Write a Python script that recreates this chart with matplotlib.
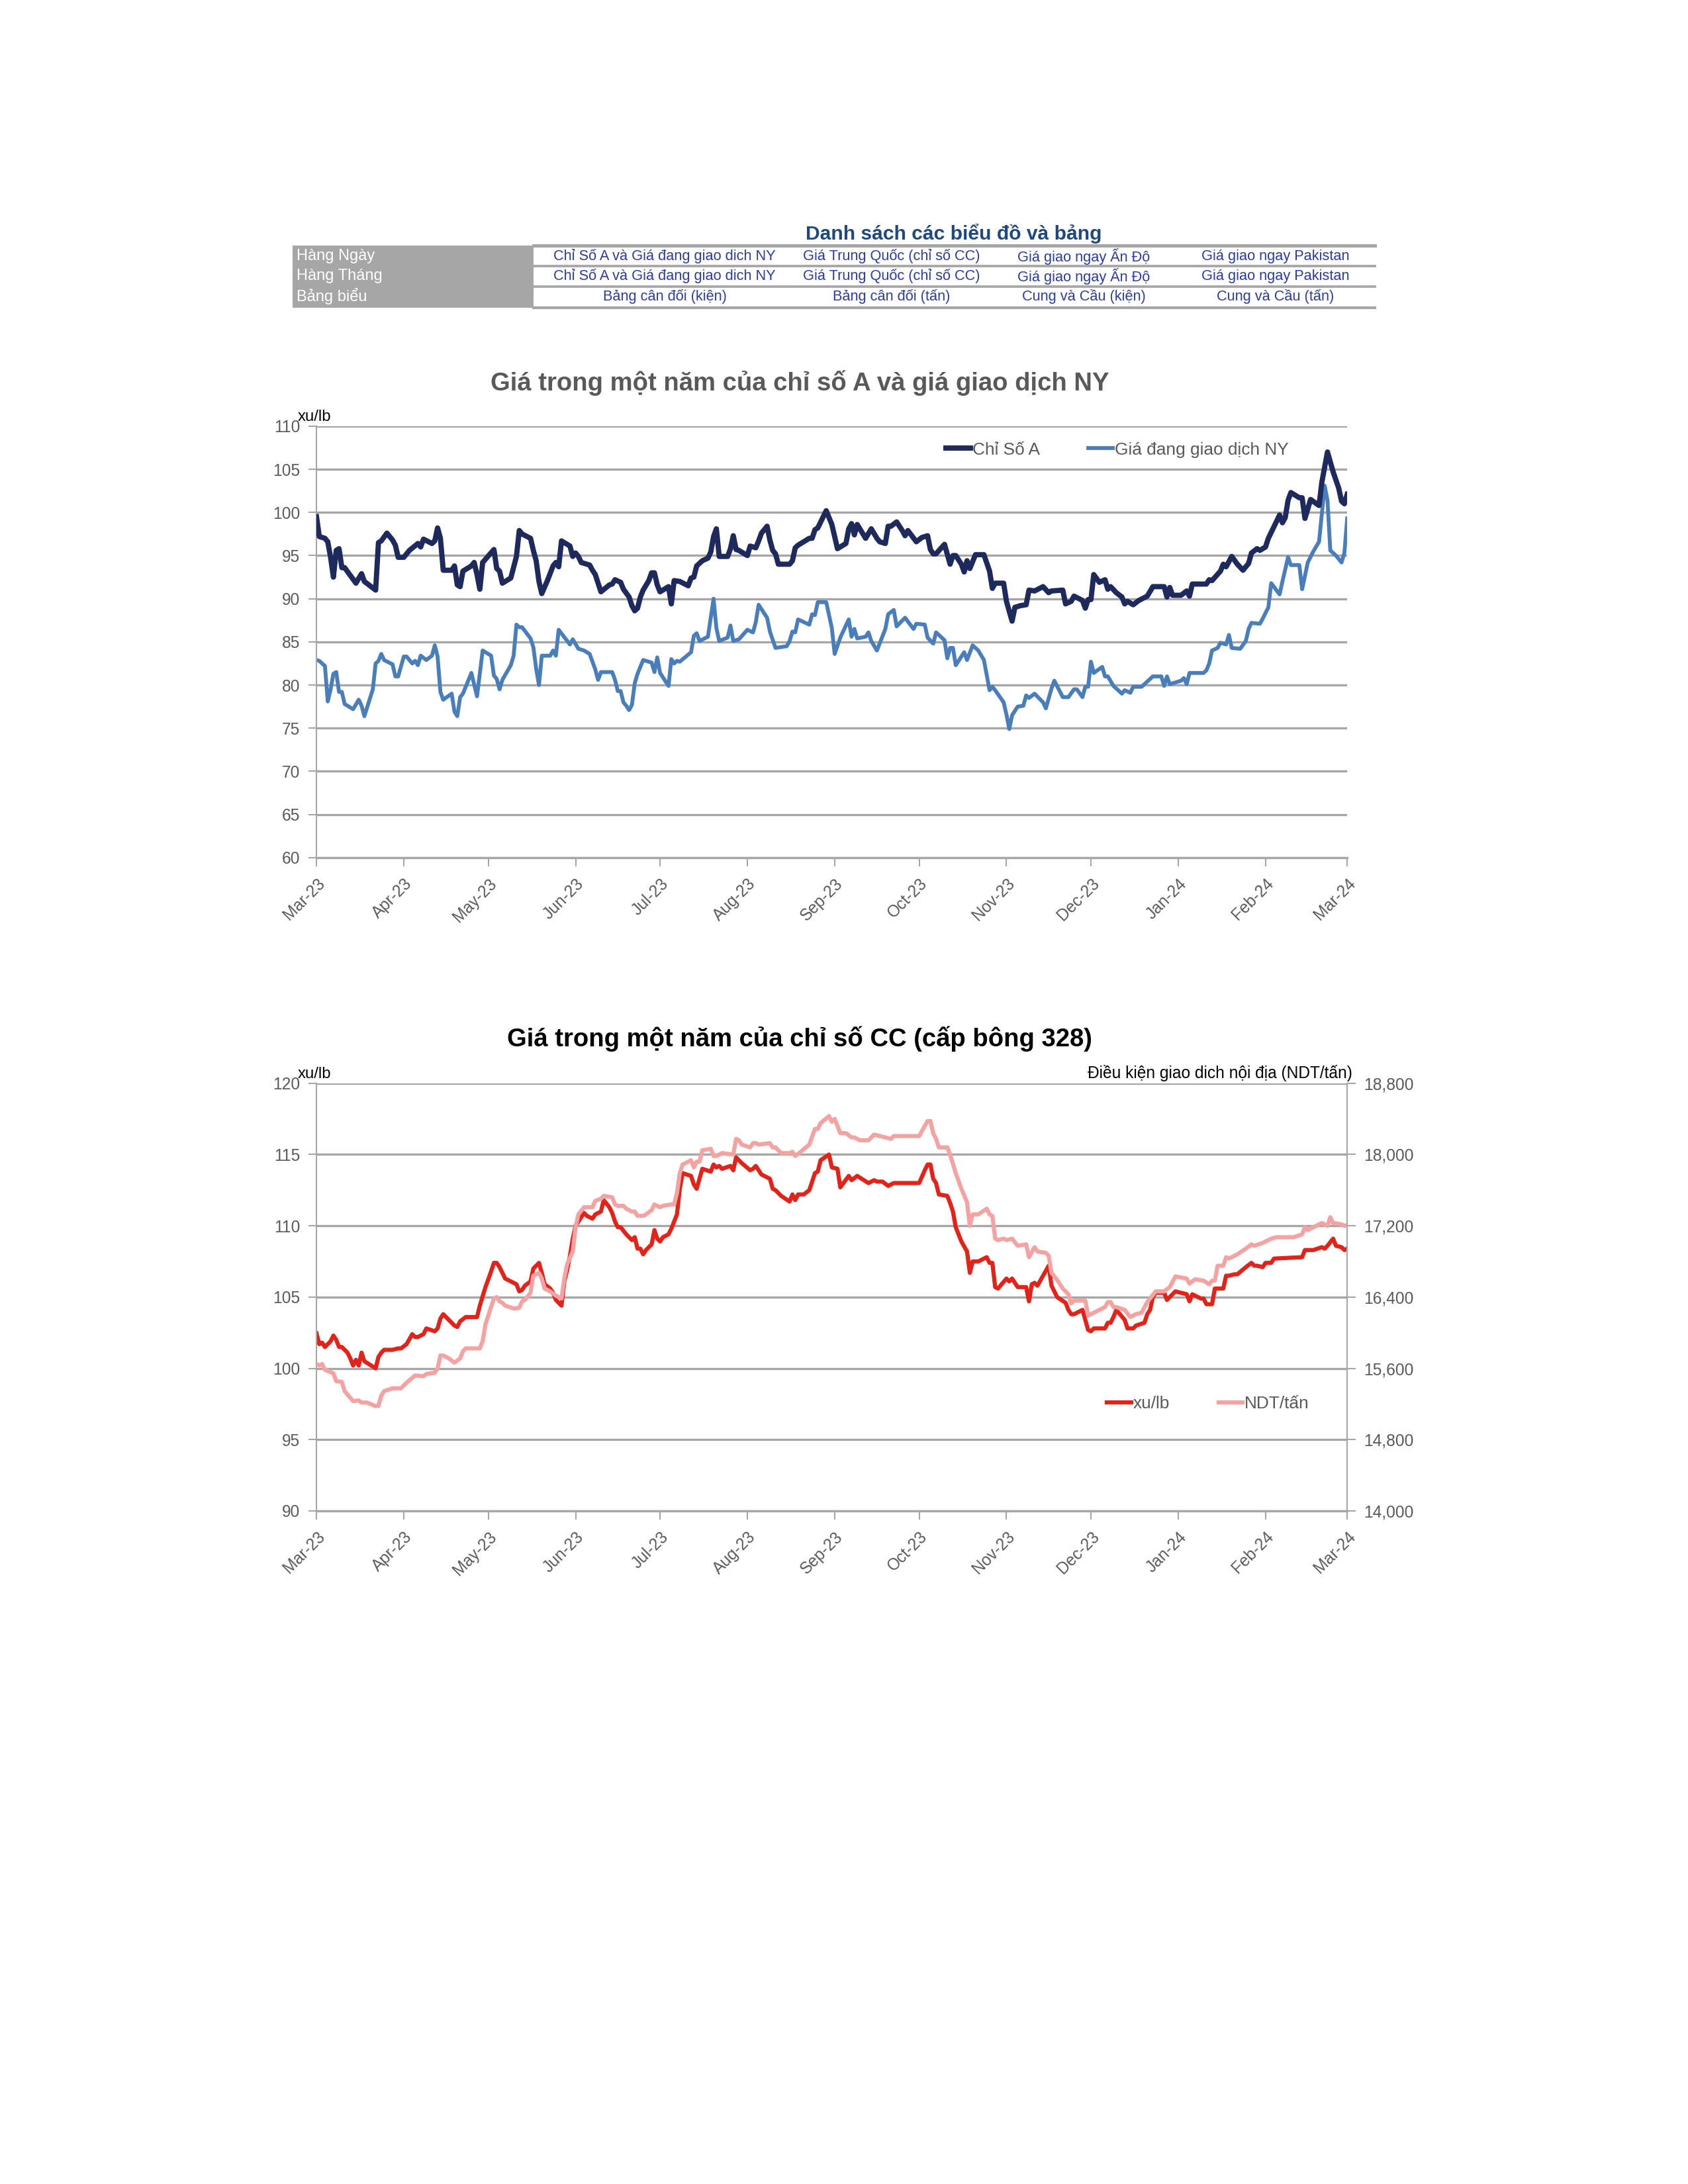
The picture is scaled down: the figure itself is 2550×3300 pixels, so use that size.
import numpy as np
import pandas as pd
import matplotlib
matplotlib.use("Agg")
import matplotlib.pyplot as plt
import matplotlib.dates as mdates
from matplotlib.lines import Line2D
from matplotlib.patches import Rectangle
from matplotlib.ticker import FuncFormatter, MultipleLocator, FixedLocator
from matplotlib import font_manager

# ---- du lieu bieu do 1: Chi so A va gia NY (xu/lb), ngay tinh tu 01/03/2023 ----
a_days = [0, 1, 3, 4, 5, 6, 7, 8, 9, 10, 12, 14, 16, 17, 19, 21, 22, 23, 25, 27, 28, 29, 31, 33,
          36, 37, 38, 41, 42, 43, 44, 45, 48, 49, 50, 51, 52, 55, 56, 57, 58, 59, 63, 64, 65, 66,
          69, 71, 72, 73, 76, 77, 78, 79, 80, 82, 84, 85, 86, 87, 88, 90, 91, 92, 93, 94, 96, 97,
          98, 99, 101, 104, 105, 106, 108, 109, 111, 112, 113, 114, 115, 116, 118, 119, 120, 121,
          122, 125, 126, 127, 129, 132, 133, 134, 135, 137, 139, 140, 141, 142, 143, 146, 147, 148,
          149, 150, 153, 154, 156, 157, 158, 160, 161, 162, 163, 164, 168, 169, 170, 171, 175, 176,
          177, 178, 181, 183, 185, 188, 189, 190, 191, 192, 195, 197, 199, 200, 202, 203, 204, 206,
          208, 209, 210, 213, 215, 217, 218, 219, 220, 223, 225, 226, 227, 229, 230, 231, 232, 234,
          237, 239, 240, 241, 244, 245, 247, 248, 250, 252, 253, 255, 258, 260, 261, 265, 266, 268,
          269, 272, 273, 274, 275, 276, 278, 280, 281, 282, 284, 286, 287, 288, 290, 292, 295, 297,
          301, 302, 303, 304, 307, 309, 310, 311, 316, 317, 318, 321, 322, 323, 325, 327, 329, 331,
          332, 334, 335, 337, 338, 342, 343, 344, 345, 346, 349, 350, 351, 353, 356, 357, 359, 361,
          363, 364, 365, 366]
chi_so_a = [99.5, 97.2, 97.0, 96.6, 94.8, 92.5, 95.6, 95.8, 93.6, 93.6, 92.7, 91.8, 92.9, 92.0,
            91.5, 91.0, 96.5, 96.7, 97.6, 96.8, 96.2, 94.8, 94.8, 95.6, 96.4, 96.0, 96.9, 96.4,
            96.7, 98.2, 97.0, 93.3, 93.3, 93.8, 91.6, 91.4, 93.2, 93.8, 94.2, 92.8, 91.1, 94.2,
            95.7, 93.5, 93.2, 91.8, 92.4, 94.9, 97.9, 97.5, 97.0, 95.6, 94.4, 92.0, 90.6, 92.1,
            93.8, 94.2, 93.7, 96.7, 96.5, 96.1, 94.9, 95.3, 94.9, 94.2, 94.0, 93.9, 93.3, 92.8,
            90.8, 91.6, 91.7, 92.2, 91.9, 91.1, 90.2, 89.2, 88.6, 88.9, 90.2, 91.0, 92.1, 93.0,
            93.0, 91.6, 90.8, 91.4, 89.4, 92.1, 92.0, 91.5, 92.4, 92.5, 93.8, 94.4, 94.7, 95.4,
            97.2, 98.1, 94.9, 94.9, 95.8, 97.3, 95.7, 95.6, 95.0, 96.1, 95.9, 96.7, 97.6, 98.4,
            96.8, 95.6, 95.2, 94.0, 94.0, 94.4, 95.9, 96.2, 97.0, 97.0, 98.0, 98.2, 100.2, 98.6,
            95.8, 96.4, 98.1, 98.7, 97.4, 98.6, 97.0, 98.1, 97.0, 96.6, 96.4, 98.4, 98.4, 98.9,
            97.9, 97.3, 97.9, 96.6, 97.1, 97.3, 95.7, 95.2, 95.2, 96.3, 94.0, 95.0, 95.0, 94.0,
            93.1, 94.4, 93.5, 95.1, 95.1, 93.2, 91.2, 91.8, 91.8, 89.7, 87.4, 89.0, 89.2, 89.3,
            91.0, 90.9, 91.4, 90.7, 90.9, 91.0, 89.4, 89.7, 90.3, 89.8, 88.9, 89.9, 89.9, 92.8,
            91.9, 92.2, 91.1, 91.4, 90.7, 90.2, 89.4, 89.7, 89.3, 89.8, 90.3, 91.4, 91.4, 90.2,
            91.3, 90.4, 90.4, 90.9, 90.3, 91.7, 91.7, 92.2, 92.1, 93.2, 94.0, 93.7, 94.9, 94.0,
            93.3, 94.1, 95.3, 95.8, 95.6, 96.0, 97.0, 99.7, 98.8, 99.4, 101.4, 102.3, 101.7, 101.7,
            99.3, 101.5, 100.8, 103.5, 107.0, 104.7, 102.8, 101.3, 101.0, 102.1]

ny_days = [0, 1, 3, 4, 5, 6, 7, 8, 9, 10, 13, 15, 16, 17, 20, 21, 22, 23, 24, 27, 28, 29, 31, 32,
           34, 35, 36, 37, 39, 41, 42, 43, 44, 45, 48, 49, 50, 51, 52, 55, 57, 59, 62, 63, 64, 65,
           66, 69, 70, 71, 72, 73, 76, 77, 78, 79, 80, 83, 84, 85, 86, 90, 91, 93, 95, 97, 99, 100,
           101, 105, 106, 107, 108, 109, 110, 111, 112, 113, 114, 116, 118, 119, 120, 121, 122, 125,
           126, 127, 128, 129, 133, 134, 135, 136, 139, 141, 142, 143, 146, 147, 148, 150, 153, 155,
           156, 157, 160, 161, 163, 167, 168, 169, 170, 171, 175, 176, 177, 178, 181, 183, 184, 186,
           189, 190, 191, 192, 195, 196, 197, 199, 202, 203, 205, 206, 209, 212, 213, 216, 217, 219,
           220, 223, 224, 225, 226, 227, 230, 231, 233, 235, 237, 239, 240, 241, 244, 245, 246, 247,
           249, 251, 252, 253, 255, 258, 259, 261, 262, 265, 267, 269, 270, 272, 273, 274, 275, 276,
           279, 280, 281, 283, 286, 287, 289, 290, 293, 297, 300, 301, 302, 303, 307, 308, 309, 310,
           315, 316, 317, 318, 320, 321, 323, 324, 325, 328, 330, 331, 332, 335, 336, 338, 339, 342,
           343, 345, 346, 349, 350, 352, 354, 356, 358, 359, 360, 362, 364, 365, 366]
gia_ny = [82.9, 82.8, 82.2, 78.1, 79.5, 81.3, 81.5, 79.2, 79.2, 77.8, 77.2, 78.3, 77.6, 76.4, 79.5,
          82.5, 82.8, 83.6, 82.9, 82.4, 81.0, 81.0, 83.3, 83.3, 82.5, 82.8, 82.3, 83.4, 82.9, 83.4,
          84.6, 83.3, 79.2, 78.3, 79.0, 76.9, 76.4, 78.6, 79.0, 81.4, 78.7, 84.0, 83.4, 81.1, 80.7,
          79.5, 80.6, 82.3, 83.4, 87.0, 86.7, 86.7, 85.4, 84.4, 81.9, 80.0, 83.4, 83.4, 84.0, 83.4,
          86.4, 84.7, 85.3, 84.2, 84.0, 83.6, 81.8, 80.6, 81.5, 81.5, 80.6, 79.3, 79.3, 78.0, 77.6,
          77.1, 77.7, 80.2, 81.3, 82.9, 82.7, 82.6, 81.5, 83.2, 81.4, 79.9, 83.0, 82.5, 82.8, 82.7,
          83.8, 85.7, 86.0, 85.1, 85.6, 90.0, 86.6, 85.1, 85.5, 86.9, 85.1, 85.3, 86.4, 86.1, 87.3,
          89.3, 87.8, 86.2, 84.3, 84.5, 85.1, 86.2, 86.1, 87.6, 87.0, 88.2, 88.1, 89.6, 89.6, 86.6,
          83.6, 85.5, 87.6, 85.6, 86.5, 85.4, 85.6, 86.1, 85.1, 84.0, 86.5, 88.2, 88.7, 86.8, 87.8,
          86.5, 87.1, 87.0, 85.5, 84.8, 86.1, 85.2, 83.1, 84.3, 84.3, 82.3, 83.8, 82.9, 84.6, 84.0,
          82.9, 79.4, 79.8, 79.4, 78.0, 76.6, 74.9, 76.5, 77.5, 77.6, 78.8, 78.5, 79.0, 78.0, 77.3,
          79.6, 80.5, 78.6, 78.6, 79.5, 79.5, 78.6, 79.8, 79.8, 82.7, 81.4, 82.1, 81.0, 81.0, 79.9,
          79.0, 79.4, 79.1, 79.8, 79.8, 81.0, 81.0, 79.9, 81.0, 80.1, 80.5, 80.8, 80.1, 81.4, 81.4,
          81.7, 82.5, 84.0, 84.3, 84.9, 84.7, 85.8, 84.3, 84.2, 85.1, 86.5, 87.2, 87.1, 87.7, 89.0,
          91.8, 90.5, 92.0, 94.8, 93.9, 93.9, 91.1, 94.2, 95.5, 96.6, 103.1, 101.4, 95.6, 95.0,
          94.2, 95.3, 99.3]

# ---- du lieu bieu do 2: chi so CC (xu/lb va NDT/tan) ----
cc_days = [0, 1, 2, 3, 5, 6, 7, 8, 9, 11, 12, 13, 14, 15, 16, 17, 21, 22, 23, 24, 27, 29, 30, 32,
           34, 35, 36, 38, 39, 42, 43, 44, 45, 47, 49, 50, 51, 53, 57, 58, 60, 62, 63, 64, 65, 67,
           69, 71, 72, 73, 74, 76, 77, 79, 80, 81, 83, 84, 85, 87, 88, 89, 90, 91, 92, 94, 95, 96,
           98, 99, 101, 102, 104, 105, 106, 107, 108, 110, 112, 113, 114, 115, 116, 117, 119, 120,
           121, 122, 123, 125, 126, 128, 129, 130, 133, 134, 135, 136, 137, 140, 141, 142, 143, 144,
           147, 148, 149, 151, 154, 155, 156, 157, 158, 161, 162, 163, 165, 168, 169, 170, 171, 173,
           175, 177, 178, 179, 182, 183, 185, 186, 189, 190, 192, 196, 198, 199, 201, 203, 205, 214,
           216, 217, 218, 219, 220, 221, 224, 225, 226, 227, 229, 231, 232, 233, 235, 238, 239, 240,
           241, 242, 245, 246, 247, 249, 252, 253, 254, 255, 256, 258, 260, 261, 263, 266, 267, 268,
           269, 272, 274, 275, 276, 280, 281, 282, 283, 284, 287, 288, 290, 291, 294, 295, 296, 297,
           298, 301, 302, 303, 305, 309, 310, 311, 314, 315, 316, 318, 319, 322, 323, 324, 326, 327,
           330, 332, 333, 334, 336, 337, 339, 340, 350, 351, 354, 357, 358, 359, 361, 362, 364, 365,
           366]
cc_xu_lb = [102.45, 101.7, 101.8, 101.5, 101.9, 102.3, 102.0, 101.5, 101.5, 101.1, 100.7, 100.2,
            100.6, 100.2, 101.1, 100.5, 100.0, 100.8, 101.1, 101.3, 101.3, 101.4, 101.4, 101.7,
            102.4, 102.2, 102.2, 102.4, 102.8, 102.6, 102.8, 103.5, 103.8, 103.4, 103.0, 102.9,
            103.3, 103.6, 103.6, 104.4, 105.7, 106.8, 107.4, 107.4, 107.1, 106.3, 106.1, 105.9,
            105.4, 105.5, 105.8, 106.1, 107.0, 107.4, 106.7, 105.9, 105.6, 105.3, 104.8, 104.4,
            106.1, 106.9, 107.9, 109.1, 110.0, 110.6, 110.9, 110.7, 110.5, 110.8, 111.0, 111.8,
            111.3, 110.9, 110.3, 109.9, 109.9, 109.4, 109.0, 109.2, 108.4, 108.4, 108.0, 108.3,
            108.7, 109.7, 109.1, 108.9, 109.2, 109.4, 109.8, 110.8, 112.6, 113.7, 113.5, 112.9,
            112.6, 113.3, 114.0, 113.8, 114.3, 114.1, 114.2, 114.0, 114.2, 113.9, 114.8, 114.4,
            113.9, 114.0, 114.2, 113.9, 113.6, 113.3, 112.6, 112.5, 112.1, 111.7, 112.2, 111.8,
            112.2, 112.2, 112.5, 113.7, 113.8, 114.6, 115.0, 114.1, 114.0, 112.7, 113.5, 113.2,
            113.5, 113.0, 113.2, 113.1, 113.1, 112.8, 113.0, 113.0, 113.9, 114.3, 114.3, 113.3,
            113.0, 112.2, 112.1, 111.6, 111.0, 109.9, 108.9, 108.2, 106.7, 107.5, 107.5, 107.8,
            107.4, 107.4, 105.7, 105.6, 106.3, 106.1, 106.3, 105.7, 105.7, 104.7, 105.9, 106.0,
            105.8, 106.5, 107.2, 105.8, 105.0, 104.6, 104.1, 103.8, 103.8, 104.1, 102.7, 102.6,
            102.8, 102.8, 103.2, 103.2, 103.6, 104.1, 103.4, 102.8, 102.8, 103.0, 103.2, 103.8,
            104.1, 105.0, 105.3, 105.3, 104.8, 105.0, 105.4, 105.2, 104.7, 105.2, 104.9, 104.9,
            104.5, 104.5, 105.6, 105.6, 106.5, 106.5, 106.6, 106.6, 107.1, 107.4, 107.2, 107.2,
            107.1, 107.4, 107.4, 107.7, 107.8, 108.3, 108.3, 108.5, 108.4, 108.6, 109.1, 108.6,
            108.5, 108.3, 108.4]

ndt_days = [0, 1, 2, 3, 6, 7, 9, 10, 13, 15, 16, 18, 21, 22, 23, 24, 27, 30, 32, 35, 38, 39, 42, 43,
            44, 45, 47, 49, 51, 52, 53, 58, 59, 60, 62, 63, 64, 65, 66, 67, 70, 72, 73, 74, 76, 77,
            79, 80, 81, 83, 85, 87, 88, 89, 91, 92, 93, 95, 98, 99, 101, 102, 105, 106, 107, 109,
            110, 112, 113, 114, 116, 117, 119, 120, 122, 123, 126, 127, 128, 129, 130, 133, 134, 135,
            136, 137, 140, 141, 142, 144, 148, 149, 150, 151, 154, 155, 156, 157, 161, 162, 163, 165,
            168, 169, 170, 172, 175, 177, 178, 179, 182, 183, 184, 186, 188, 190, 191, 193, 196, 198,
            199, 202, 204, 205, 214, 216, 217, 218, 219, 220, 221, 224, 225, 227, 229, 231, 232, 233,
            235, 238, 239, 240, 241, 242, 244, 245, 247, 249, 252, 253, 255, 256, 259, 260, 261, 263,
            265, 267, 268, 269, 273, 274, 276, 277, 280, 281, 282, 283, 284, 287, 289, 291, 293, 295,
            296, 298, 301, 303, 305, 309, 310, 312, 315, 317, 318, 319, 320, 322, 323, 324, 327, 330,
            332, 333, 336, 338, 339, 341, 347, 350, 351, 352, 355, 357, 359, 360, 361, 364, 365, 366]
cc_ndt = [15648, 15632, 15648, 15584, 15544, 15456, 15448, 15344, 15232, 15240, 15216, 15216, 15176,
          15180, 15296, 15344, 15376, 15376, 15440, 15520, 15512, 15536, 15552, 15600, 15744, 15744,
          15712, 15664, 15712, 15792, 15824, 15824, 15904, 16096, 16288, 16384, 16400, 16352, 16336,
          16304, 16272, 16280, 16352, 16368, 16448, 16640, 16672, 16608, 16496, 16464, 16416, 16384,
          16608, 16768, 16912, 17184, 17328, 17408, 17408, 17480, 17504, 17536, 17520, 17440, 17424,
          17424, 17392, 17360, 17360, 17312, 17312, 17328, 17376, 17440, 17408, 17424, 17440, 17440,
          17568, 17792, 17888, 17936, 17856, 17920, 17920, 18048, 18064, 17984, 17984, 18016, 18000,
          18176, 18160, 18112, 18080, 18128, 18128, 18112, 18128, 18080, 18080, 18016, 18016, 18032,
          17984, 18032, 18112, 18288, 18288, 18352, 18432, 18368, 18400, 18240, 18240, 18192, 18192,
          18160, 18160, 18224, 18216, 18192, 18176, 18208, 18208, 18320, 18376, 18376, 18240, 18176,
          18080, 18080, 18000, 17792, 17616, 17464, 17200, 17328, 17328, 17392, 17328, 17312, 17056,
          17040, 17056, 17040, 17056, 16976, 16992, 16848, 16960, 16912, 16896, 16864, 16672, 16592,
          16496, 16432, 16328, 16360, 16360, 16192, 16224, 16240, 16288, 16344, 16344, 16288, 16288,
          16256, 16176, 16208, 16224, 16344, 16384, 16464, 16464, 16512, 16632, 16608, 16552, 16600,
          16584, 16544, 16584, 16584, 16752, 16752, 16848, 16832, 16880, 16944, 16992, 16976, 17008,
          17040, 17056, 17072, 17072, 17104, 17184, 17152, 17200, 17232, 17200, 17296, 17232, 17216,
          17200, 17208]
ndt_ticks = [14000, 14800, 15600, 16400, 17200, 18000, 18800]

# ---- bang danh sach ----
bang_tieu_de = "Danh sách các biểu đồ và bảng"
bang_hang = ["Hàng Ngày", "Hàng Tháng", "Bảng biểu"]
bang_o = [
    ["Chỉ Số A và Giá đang giao dich NY", "Giá Trung Quốc (chỉ số CC)", "Giá giao ngay Ấn Độ", "Giá giao ngay Pakistan"],
    ["Chỉ Số A và Giá đang giao dich NY", "Giá Trung Quốc (chỉ số CC)", "Giá giao ngay Ấn Độ", "Giá giao ngay Pakistan"],
    ["Bảng cân đối (kiện)", "Bảng cân đối (tấn)", "Cung và Cầu (kiện)", "Cung và Cầu (tấn)"],
]

# ---- font ----
have_narrow = any("Liberation Sans Narrow" in f.name for f in font_manager.fontManager.ttflist)
FAM = ["Liberation Sans Narrow", "Liberation Sans", "DejaVu Sans"] if have_narrow else ["Liberation Sans", "DejaVu Sans"]
plt.rcParams["font.family"] = FAM
k = 1.0 if have_narrow else 0.82   # thu nho co chu neu khong co font narrow

GRAY_TXT = "#595959"
GRID = "#A6A6A6"

base = pd.Timestamp("2023-03-01")
def to_date(days):
    return base + pd.to_timedelta(np.array(days), unit="D")

fig = plt.figure(figsize=(8.5, 11), dpi=300)

def fx(px):
    return px / 2550.0
def fy(py):
    return 1 - py / 3300.0

# ---- ve bang ----
fig.text(fx(1441), fy(353), bang_tieu_de, ha="center", va="center", fontsize=8.8 * k,
         fontweight="bold", color="#1F497D")
fig.add_artist(Rectangle((fx(442), fy(465)), fx(806) - fx(442), fy(371) - fy(465),
                         transform=fig.transFigure, facecolor="#A6A6A6", edgecolor="none"))
for yy, w in [(371, 1.2), (402, 0.9), (433, 0.9), (465, 1.0)]:
    fig.add_artist(Line2D([fx(806), fx(2077)], [fy(yy), fy(yy)], transform=fig.transFigure,
                          color="#A6A6A6", lw=w))
row_y = [387, 417, 448]
col_x = [1004, 1347, 1637, 1927]
for i, ten in enumerate(bang_hang):
    fig.text(fx(448), fy(row_y[i]), ten, ha="left", va="center", fontsize=6.9 * k, color="white")
    for j, o in enumerate(bang_o[i]):
        fig.text(fx(col_x[j]), fy(row_y[i]), o, ha="center", va="center", fontsize=6.4 * k,
                 color="#2B3BA8")

months = pd.date_range("2023-03-01", "2024-03-01", freq="MS")

def style_axes(ax):
    ax.set_xlim(base, pd.Timestamp("2024-03-01"))
    ax.set_xticks(months)
    ax.xaxis.set_major_formatter(mdates.DateFormatter("%b-%y"))
    ax.grid(axis="y", color=GRID, lw=0.8)
    ax.set_axisbelow(True)
    for s in ["top", "right"]:
        ax.spines[s].set_visible(False)
    ax.spines["left"].set_color(GRID)
    ax.spines["left"].set_linewidth(0.5)
    ax.spines["bottom"].set_color(GRID)
    ax.spines["bottom"].set_linewidth(0.8)
    ax.tick_params(axis="both", colors=GRID, labelcolor=GRAY_TXT, labelsize=7.2 * k,
                   length=3, width=0.5)
    ax.tick_params(axis="y", pad=3)
    for lb in ax.get_xticklabels():
        lb.set_rotation(45)
        lb.set_ha("right")
        lb.set_va("top")
        lb.set_rotation_mode("anchor")

# ---- bieu do 1 ----
ax1 = fig.add_axes([0.1875, 0.6073, 0.6106, 0.1976])
ax1.plot(to_date(a_days), chi_so_a, color="#1F2A5C", lw=1.9, label="Chỉ Số A", zorder=3)
ax1.plot(to_date(ny_days), gia_ny, color="#4A7EBB", lw=1.4, label="Giá đang giao dịch NY", zorder=2)
ax1.set_ylim(60, 110)
ax1.yaxis.set_major_locator(MultipleLocator(5))
style_axes(ax1)
ax1.text(-0.018, 1.004, "xu/lb", transform=ax1.transAxes, ha="left", va="bottom",
         fontsize=7 * k, color="black")
fig.text(fx(1208), fy(579), "Giá trong một năm của chỉ số A và giá giao dịch NY", ha="center",
         va="center", fontsize=11.2 * k, fontweight="bold", color=GRAY_TXT)
ax1.legend(loc="center", bbox_to_anchor=(0.777, 0.945), ncol=2, frameon=False,
           fontsize=7.7 * k, handlelength=1.4, handletextpad=0.1, columnspacing=2.8,
           labelcolor=GRAY_TXT)

# ---- bieu do 2 ----
ax2 = fig.add_axes([0.1875, 0.3082, 0.6106, 0.1958])
ln1, = ax2.plot(to_date(cc_days), cc_xu_lb, color="#E2231A", lw=1.5, label="xu/lb")
ax2.set_ylim(90, 120)
ax2.yaxis.set_major_locator(MultipleLocator(5))
style_axes(ax2)
ax3 = ax2.twinx()
ln2, = ax3.plot(to_date(ndt_days), cc_ndt, color="#F4A3A3", lw=1.5, label="NDT/tấn")
ax3.set_ylim(ndt_ticks[0], ndt_ticks[-1])
ax3.yaxis.set_major_locator(FixedLocator(ndt_ticks))
ax3.yaxis.set_major_formatter(FuncFormatter(lambda v, p: f"{int(v):,}"))
for s in ["top", "left", "bottom"]:
    ax3.spines[s].set_visible(False)
ax3.spines["right"].set_color(GRID)
ax3.spines["right"].set_linewidth(0.5)
ax3.tick_params(axis="y", colors=GRID, labelcolor=GRAY_TXT, labelsize=7.2 * k, length=3,
                width=0.5, pad=3)
ax2.text(-0.018, 1.004, "xu/lb", transform=ax2.transAxes, ha="left", va="bottom",
         fontsize=7 * k, color="black")
ax2.text(1.005, 1.004, "Điều kiện giao dich nội địa (NDT/tấn)", transform=ax2.transAxes,
         ha="right", va="bottom", fontsize=7.2 * k, color="black")
fig.text(fx(1208), fy(1570), "Giá trong một năm của chỉ số CC (cấp bông 328)", ha="center",
         va="center", fontsize=11.2 * k, fontweight="bold", color="black")
ax3.legend([ln1, ln2], ["xu/lb", "NDT/tấn"], loc="center", bbox_to_anchor=(0.865, 0.25), ncol=2,
           frameon=False, fontsize=7.7 * k, handlelength=1.4, handletextpad=0.1,
           columnspacing=2.8, labelcolor=GRAY_TXT)

fig.savefig("out.png", dpi=300, facecolor="white")
